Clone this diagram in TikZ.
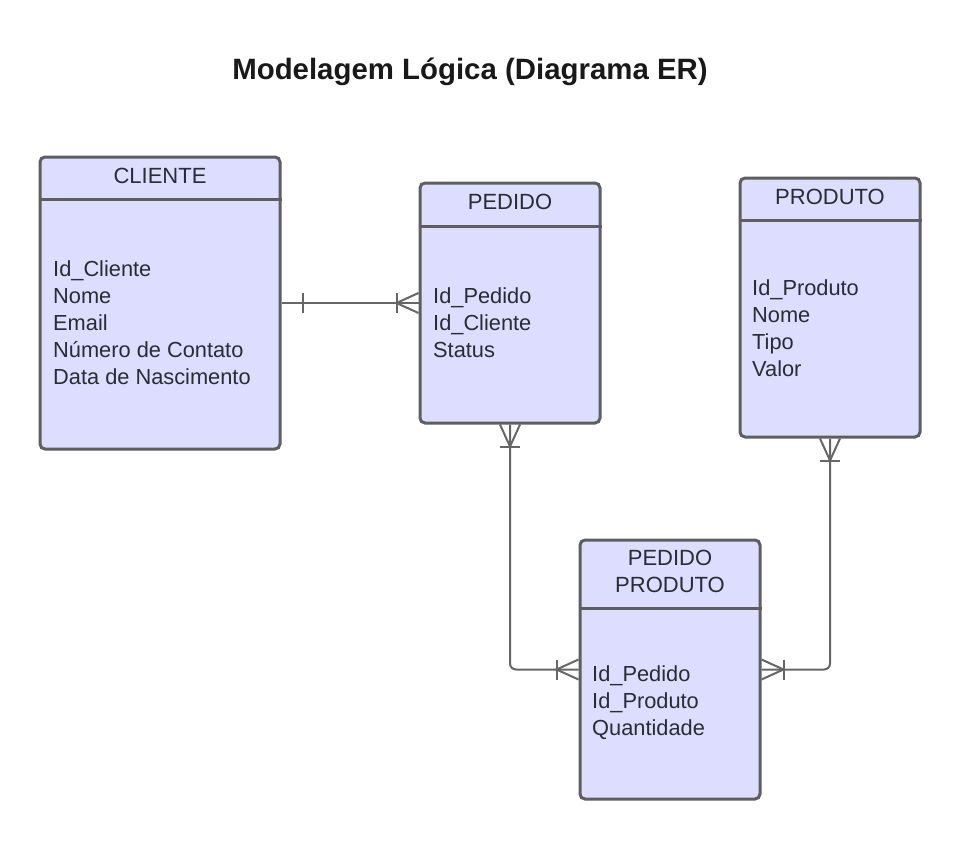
\documentclass[tikz,border=0pt]{standalone}
\usepackage{fontspec}
\setmainfont{Liberation Sans}
\usetikzlibrary{calc}
\definecolor{boxfill}{HTML}{DDDDFF}
\definecolor{boxline}{HTML}{5E5E5E}
\definecolor{conncol}{HTML}{666666}
\definecolor{txtcol}{HTML}{282C33}
\begin{document}
\begin{tikzpicture}[x=1pt,y=-1pt,
  entity/.style={draw=boxline, fill=boxfill, line width=3pt, rounded corners=5pt, inner sep=0pt},
  divider/.style={draw=boxline, line width=3pt},
  hdr/.style={text=txtcol, font=\fontsize{22}{27}\selectfont, align=center, inner sep=0pt},
  body/.style={text=txtcol, font=\fontsize{21.8}{27}\selectfont, align=left, inner sep=0pt, anchor=west},
  conn/.style={draw=conncol, line width=2pt},
  titlestyle/.style={text=black!90, font=\fontsize{29.4}{34}\selectfont\bfseries, inner sep=0pt}]
\useasboundingbox (0,0) rectangle (960,840);
\fill[white] (0,0) rectangle (960,840);

\node[titlestyle] (title) at (470,72) {Modelagem Lógica (Diagrama ER)};

% CLIENTE
\node[entity, minimum width=240pt, minimum height=292pt] (cliente) at (160,303) {};
\draw[divider] (cliente.west |- 0,199) -- (cliente.east |- 0,199);
\node[hdr] (clienteH) at (160,176) {CLIENTE};
\node[body] (clienteB) at (53,323) {Id\_Cliente\\Nome\\Email\\Número de Contato\\Data de Nascimento};

% PEDIDO
\node[entity, minimum width=180pt, minimum height=240pt] (pedido) at (510,303) {};
\draw[divider] (pedido.west |- 0,226) -- (pedido.east |- 0,226);
\node[hdr] (pedidoH) at (510,202) {PEDIDO};
\node[body] (pedidoB) at (433,323) {Id\_Pedido\\Id\_Cliente\\Status};

% PRODUTO
\node[entity, minimum width=180pt, minimum height=259pt] (produto) at (830,307.5) {};
\draw[divider] (produto.west |- 0,220) -- (produto.east |- 0,220);
\node[hdr] (produtoH) at (830,197) {PRODUTO};
\node[body] (produtoB) at (752,328) {Id\_Produto\\Nome\\Tipo\\Valor};

% PEDIDO PRODUTO
\node[entity, minimum width=180pt, minimum height=259pt] (pp) at (670,669.5) {};
\draw[divider] (pp.west |- 0,608) -- (pp.east |- 0,608);
\node[hdr] (ppH) at (670,571) {PEDIDO\\PRODUTO};
\node[body] (ppB) at (592,703) {Id\_Pedido\\Id\_Produto\\Quantidade};

% connectors
\draw[conn] (cliente.east) -- (pedido.west);
\draw[conn] ($(cliente.east)+(21,-10)$) -- ($(cliente.east)+(21,10)$);
\draw[conn] ($(pedido.west)+(-22,-10)$) -- ($(pedido.west)+(-22,10)$);
\draw[conn] ($(pedido.west)+(0,-10)$) -- ($(pedido.west)+(-22,0)$) -- ($(pedido.west)+(0,10)$);

\draw[conn, rounded corners=6pt] (pedido.south) |- (pp.west);
\draw[conn] ($(pedido.south)+(-10,22)$) -- ($(pedido.south)+(10,22)$);
\draw[conn] ($(pedido.south)+(-10,0)$) -- ($(pedido.south)+(0,22)$) -- ($(pedido.south)+(10,0)$);
\draw[conn] ($(pp.west)+(-22,-10)$) -- ($(pp.west)+(-22,10)$);
\draw[conn] ($(pp.west)+(0,-10)$) -- ($(pp.west)+(-22,0)$) -- ($(pp.west)+(0,10)$);

\draw[conn, rounded corners=6pt] (produto.south) |- (pp.east);
\draw[conn] ($(produto.south)+(-10,22)$) -- ($(produto.south)+(10,22)$);
\draw[conn] ($(produto.south)+(-10,0)$) -- ($(produto.south)+(0,22)$) -- ($(produto.south)+(10,0)$);
\draw[conn] ($(pp.east)+(22,-10)$) -- ($(pp.east)+(22,10)$);
\draw[conn] ($(pp.east)+(0,-10)$) -- ($(pp.east)+(22,0)$) -- ($(pp.east)+(0,10)$);
\end{tikzpicture}
\end{document}
